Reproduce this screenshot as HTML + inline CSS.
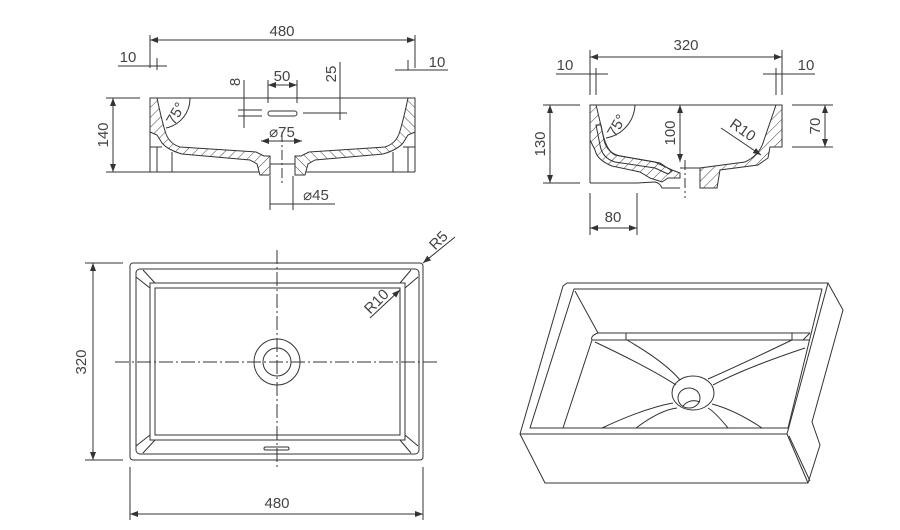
<!DOCTYPE html>
<html><head><meta charset="utf-8"><style>
html,body{margin:0;padding:0;background:#fff;}
svg{display:block;}
text{font-family:"Liberation Sans",sans-serif;font-size:15px;fill:#444;}
</style></head><body>
<svg width="900" height="530" viewBox="0 0 900 530" xmlns="http://www.w3.org/2000/svg">
<defs>
<pattern id="h" patternUnits="userSpaceOnUse" width="7" height="7" patternTransform="rotate(45)">
<rect width="7" height="7" fill="#fff"/><line x1="0" y1="0" x2="0" y2="7" stroke="#444" stroke-width="1"/></pattern>
<marker id="a" markerWidth="8" markerHeight="6" refX="8" refY="3" orient="auto-start-reverse" markerUnits="userSpaceOnUse"><path d="M0,0 L8,3 L0,6 Z" fill="#333"/></marker>
</defs>
<g stroke="#333" stroke-width="1" fill="none">

<line x1="150" y1="98" x2="415" y2="98"/>
<line x1="150" y1="172" x2="262" y2="172"/>
<line x1="303" y1="172" x2="415" y2="172"/>
<line x1="150" y1="98" x2="150" y2="172"/>
<line x1="415" y1="98" x2="415" y2="172"/>
<g id="lsec">
<path d="M150,98 L157,98 Q162,122 166,134 Q170,144 180,147 L256,152 L264,156 L270,156 L270,175 L260,175 L257,164 L250,160 L182,154 Q168,150 162,143 L157,135 L150,132 Z" fill="url(#h)"/>
<line x1="157" y1="147" x2="157" y2="172"/>
<line x1="172" y1="152" x2="172" y2="172"/>
<line x1="150" y1="147" x2="162" y2="147"/>
</g>
<use href="#lsec" transform="translate(565,0) scale(-1,1)"/>
<line x1="270" y1="164" x2="295" y2="164"/>
<line x1="282" y1="132" x2="282" y2="185" stroke-dasharray="10,3,2,3"/>
<line x1="150" y1="35" x2="150" y2="68"/><line x1="415" y1="35" x2="415" y2="68"/>
<line x1="150" y1="40" x2="415" y2="40" marker-start="url(#a)" marker-end="url(#a)"/>
<line x1="157" y1="58" x2="157" y2="70"/><line x1="118" y1="66" x2="167" y2="66"/>
<line x1="408" y1="60" x2="408" y2="70"/><line x1="395" y1="70" x2="448" y2="70"/>
<line x1="106" y1="98" x2="140" y2="98"/><line x1="106" y1="172" x2="248" y2="172"/>
<line x1="113" y1="98" x2="113" y2="172" marker-start="url(#a)" marker-end="url(#a)"/>
<line x1="244" y1="80" x2="244" y2="128"/><line x1="238" y1="110" x2="262" y2="110"/><line x1="238" y1="116" x2="262" y2="116"/>
<line x1="268" y1="80" x2="268" y2="103"/><line x1="297" y1="80" x2="297" y2="103"/>
<line x1="268" y1="85" x2="297" y2="85" marker-start="url(#a)" marker-end="url(#a)"/>
<rect x="268" y="111" width="29" height="5" rx="2.5"/>
<line x1="303" y1="113" x2="347" y2="113"/>
<line x1="340" y1="62" x2="340" y2="120"/>
<line x1="261" y1="141" x2="302" y2="141" marker-start="url(#a)" marker-end="url(#a)"/>
<line x1="270" y1="176" x2="270" y2="210"/><line x1="293" y1="176" x2="293" y2="210"/>
<line x1="270" y1="204" x2="335" y2="204"/>
<path d="M190,98 A30,30 0 0 1 166,128"/>
</g>
<g>
<text x="282" y="36" text-anchor="middle">480</text>
<text x="128" y="62" text-anchor="middle">10</text>
<text x="437" y="67" text-anchor="middle">10</text>
<text x="282" y="81" text-anchor="middle">50</text>
<text x="282" y="137" text-anchor="middle">⌀75</text>
<text x="316" y="200" text-anchor="middle">⌀45</text>
<text transform="translate(108,135) rotate(-90)" text-anchor="middle">140</text>
<text transform="translate(240,82) rotate(-90)" text-anchor="middle">8</text>
<text transform="translate(336,74) rotate(-90)" text-anchor="middle">25</text>
<text transform="translate(180,116) rotate(-60)" text-anchor="middle">75°</text>
</g>

<g stroke="#333" stroke-width="1" fill="none">
<line x1="590" y1="105" x2="782" y2="105"/>
<line x1="590" y1="105" x2="590" y2="183"/>
<line x1="590" y1="183" x2="637" y2="183"/>
<line x1="782" y1="105" x2="782" y2="147"/>
<path d="M590,105 L596,105 Q601,125 604,140 Q607,153 620,156 L655,162 L672,170 L680,173 L680,178 L668,178 L662,182 L650,178 L640,172 L612,166 Q597,160 595,150 L590,140 Z" fill="url(#h)"/>
<path d="M596,125 L601,125 Q605,150 615,155 L660,163 L672,171 L668,174 L655,168 L615,162 Q602,158 600,145 Z"/>
<path d="M637,183 L655,182 Q660,183 662,188 L680,188"/>
<path d="M782,105 L782,147 L770,147 L768,158 L758,165 L720,170 L717,188 L700,188 L700,168 L745,162 Q760,155 764,140 L776,105 Z" fill="url(#h)"/>
<line x1="680" y1="168" x2="700" y2="168"/>
<line x1="685" y1="160" x2="685" y2="198" stroke-dasharray="10,3,2,3"/>
<line x1="590" y1="50" x2="590" y2="95"/><line x1="782" y1="50" x2="782" y2="95"/>
<line x1="590" y1="57" x2="782" y2="57" marker-start="url(#a)" marker-end="url(#a)"/>
<line x1="596" y1="68" x2="596" y2="95"/><line x1="556" y1="74" x2="608" y2="74"/>
<line x1="776" y1="68" x2="776" y2="95"/><line x1="763" y1="74" x2="815" y2="74"/>
<line x1="543" y1="105" x2="580" y2="105"/><line x1="543" y1="183" x2="580" y2="183"/>
<line x1="550" y1="105" x2="550" y2="183" marker-start="url(#a)" marker-end="url(#a)"/>
<line x1="792" y1="105" x2="833" y2="105"/><line x1="792" y1="147" x2="833" y2="147"/>
<line x1="825" y1="105" x2="825" y2="147" marker-start="url(#a)" marker-end="url(#a)"/>
<line x1="680" y1="105" x2="680" y2="162" marker-start="url(#a)" marker-end="url(#a)"/>
<line x1="590" y1="193" x2="590" y2="235"/><line x1="637" y1="193" x2="637" y2="235"/>
<line x1="590" y1="228" x2="637" y2="228" marker-start="url(#a)" marker-end="url(#a)"/>
<line x1="721" y1="128" x2="761" y2="155" marker-end="url(#a)"/>
<path d="M635,105 A35,35 0 0 1 606,138"/>
</g>
<g>
<text x="686" y="50" text-anchor="middle">320</text>
<text x="565" y="70" text-anchor="middle">10</text>
<text x="806" y="70" text-anchor="middle">10</text>
<text x="613" y="222" text-anchor="middle">80</text>
<text transform="translate(545,144) rotate(-90)" text-anchor="middle">130</text>
<text transform="translate(820,126) rotate(-90)" text-anchor="middle">70</text>
<text transform="translate(675,133) rotate(-90)" text-anchor="middle">100</text>
<text transform="translate(740,134) rotate(35)" text-anchor="middle">R10</text>
<text transform="translate(621,128) rotate(-60)" text-anchor="middle">75°</text>
</g>

<g stroke="#333" stroke-width="1" fill="none">
<rect x="130" y="263" width="293" height="197" rx="3"/>
<rect x="136" y="269" width="283" height="185" rx="4"/>
<rect x="150" y="283" width="255" height="157"/>
<rect x="155" y="288" width="245" height="147"/>
<line x1="136" y1="277" x2="150" y2="288"/><line x1="143" y1="270" x2="155" y2="283"/>
<line x1="418" y1="277" x2="405" y2="288"/><line x1="411" y1="270" x2="400" y2="283"/>
<line x1="136" y1="446" x2="150" y2="435"/><line x1="143" y1="453" x2="155" y2="440"/>
<line x1="418" y1="446" x2="405" y2="435"/><line x1="411" y1="453" x2="400" y2="440"/>
<circle cx="277" cy="362" r="23"/><circle cx="277" cy="362" r="14"/>
<line x1="115" y1="362" x2="438" y2="362" stroke-dasharray="14,3,2,3"/>
<line x1="277" y1="250" x2="277" y2="470" stroke-dasharray="14,3,2,3"/>
<rect x="264" y="447" width="25" height="3" rx="1.5"/>
<line x1="85" y1="263" x2="123" y2="263"/><line x1="85" y1="460" x2="123" y2="460"/>
<line x1="93" y1="263" x2="93" y2="460" marker-start="url(#a)" marker-end="url(#a)"/>
<line x1="130" y1="467" x2="130" y2="520"/><line x1="423" y1="467" x2="423" y2="520"/>
<line x1="130" y1="514" x2="423" y2="514" marker-start="url(#a)" marker-end="url(#a)"/>
<line x1="455" y1="237" x2="423" y2="263" marker-end="url(#a)"/>
<line x1="370" y1="318" x2="400" y2="290" marker-end="url(#a)"/>
</g>
<g>
<text x="277" y="508" text-anchor="middle">480</text>
<text transform="translate(86,362) rotate(-90)" text-anchor="middle">320</text>
<text transform="translate(442,244) rotate(-45)" text-anchor="middle">R5</text>
<text transform="translate(380,305) rotate(-45)" text-anchor="middle">R10</text>
</g>

<g stroke="#333" stroke-width="1" fill="none" stroke-linejoin="round">
<path d="M567,283 L828,283 L843,310 L812,422 L820,445 L808,483 L545,483 L520,434 L563,286 Z"/>
<line x1="520" y1="434" x2="787" y2="434"/>
<line x1="787" y1="434" x2="808" y2="483"/>
<line x1="789" y1="436" x2="810" y2="481"/>
<line x1="828" y1="283" x2="787" y2="434"/>
<path d="M574,289 L822,289 L788,428 L530,428 Z"/>
<line x1="575" y1="291" x2="598" y2="333"/>
<path d="M598,333 Q590,336 592,340 L810,340 M598,333 L810,333"/>
<line x1="626" y1="333" x2="626" y2="340"/><line x1="792" y1="333" x2="792" y2="340"/>
<line x1="592" y1="340" x2="563" y2="428"/>
<line x1="810" y1="333" x2="803" y2="340"/>
<ellipse cx="693" cy="393" rx="21" ry="17"/>
<ellipse cx="689" cy="398" rx="11" ry="10"/>
<path d="M683,406 Q690,398 700,402"/>
<path d="M595,342 Q650,368 676,385"/>
<path d="M627,340 Q665,362 680,380"/>
<path d="M805,348 Q745,368 713,385"/>
<path d="M792,340 Q740,365 708,379"/>
<path d="M602,428 Q645,408 673,403"/>
<path d="M636,428 Q660,410 677,408"/>
<path d="M728,428 Q715,412 708,408"/>
<path d="M762,428 Q735,410 712,404"/>
</g>
</svg>
</body></html>
